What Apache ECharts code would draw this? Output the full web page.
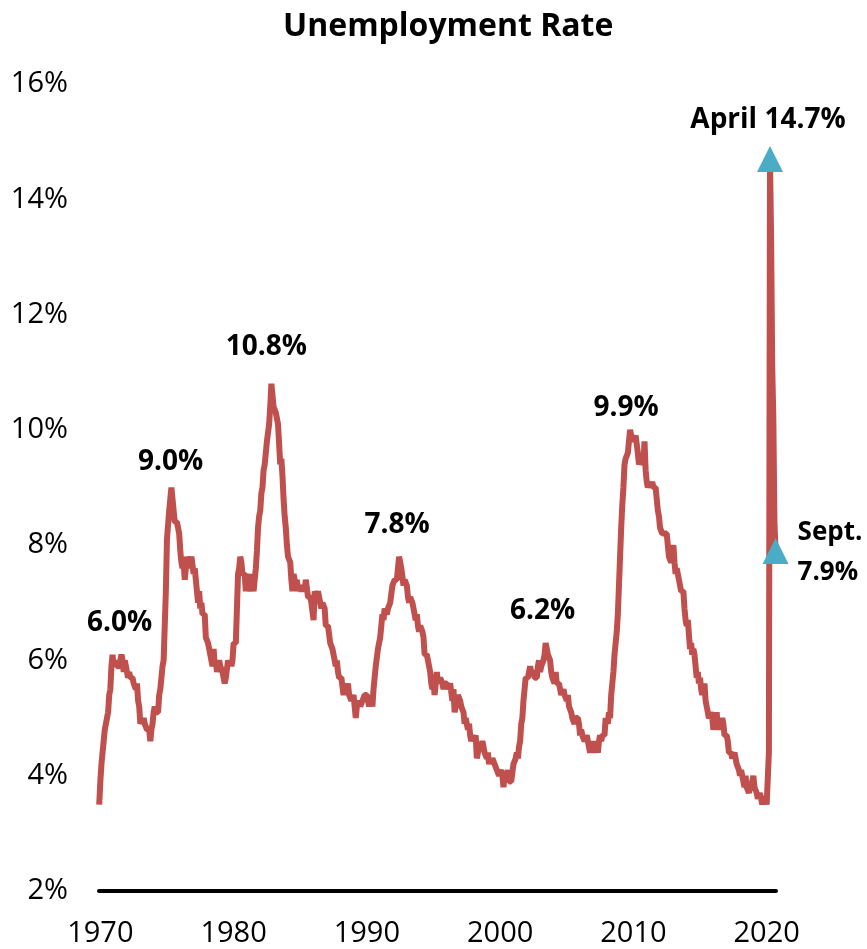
<!DOCTYPE html>
<html>
<head>
    <meta charset="utf-8">
    <title>Unemployment Rate</title>
    <style>
        html, body { margin: 0; padding: 0; background: #fff; }
        #chart { width: 867px; height: 949px; }
    </style>
</head>
<body>
    <div id="chart"></div>
    <script src="https://cdn.jsdelivr.net/npm/echarts@6/dist/echarts.min.js"></script>
    <script>
        // monthly rate, first point is Dec 1969
        var firstMonth = 1969 + 11 / 12;
        var rate1969 = [3.5];
        var rate1970s = [
            3.9, 4.2, 4.4, 4.6, 4.8, 4.9, 5.0, 5.1, 5.4, 5.5, 5.9, 6.1,
            5.9, 5.9, 6.0, 5.9, 5.9, 5.9, 6.0, 6.1, 6.0, 5.8, 6.0, 6.0,
            5.8, 5.7, 5.8, 5.7, 5.7, 5.7, 5.6, 5.6, 5.5, 5.6, 5.3, 5.2,
            4.9, 5.0, 4.9, 5.0, 4.9, 4.9, 4.8, 4.8, 4.8, 4.6, 4.8, 4.9,
            5.1, 5.2, 5.1, 5.1, 5.1, 5.4, 5.5, 5.5, 5.9, 6.0, 6.6, 7.2,
            8.1, 8.1, 8.6, 8.8, 9.0, 8.8, 8.6, 8.4, 8.4, 8.4, 8.3, 8.2,
            7.9, 7.7, 7.6, 7.7, 7.4, 7.6, 7.8, 7.8, 7.6, 7.7, 7.8, 7.8,
            7.5, 7.6, 7.4, 7.2, 7.0, 7.2, 6.9, 7.0, 6.8, 6.8, 6.8, 6.4,
            6.4, 6.3, 6.3, 6.1, 6.0, 5.9, 6.2, 5.9, 6.0, 5.8, 5.9, 6.0,
            5.9, 5.9, 5.8, 5.8, 5.6, 5.7, 5.7, 6.0, 5.9, 6.0, 5.9, 6.0
        ];
        var rate1980s = [
            6.3, 6.3, 6.3, 6.9, 7.5, 7.6, 7.8, 7.7, 7.5, 7.5, 7.5, 7.2,
            7.5, 7.4, 7.4, 7.2, 7.5, 7.5, 7.2, 7.4, 7.6, 7.9, 8.3, 8.5,
            8.6, 8.9, 9.0, 9.3, 9.4, 9.6, 9.8, 9.8, 10.1, 10.4, 10.8, 10.8,
            10.4, 10.4, 10.3, 10.2, 10.1, 10.1, 9.4, 9.5, 9.2, 8.8, 8.5, 8.3,
            8.0, 7.8, 7.8, 7.7, 7.4, 7.2, 7.5, 7.5, 7.3, 7.4, 7.2, 7.3,
            7.3, 7.2, 7.2, 7.3, 7.2, 7.4, 7.4, 7.1, 7.1, 7.1, 7.0, 7.0,
            6.7, 7.2, 7.2, 7.1, 7.2, 7.2, 7.0, 6.9, 7.0, 7.0, 6.9, 6.6,
            6.6, 6.6, 6.6, 6.3, 6.3, 6.2, 6.1, 6.0, 5.9, 6.0, 5.8, 5.7,
            5.7, 5.7, 5.7, 5.4, 5.6, 5.4, 5.4, 5.6, 5.4, 5.4, 5.3, 5.3,
            5.4, 5.2, 5.0, 5.2, 5.2, 5.3, 5.2, 5.2, 5.3, 5.3, 5.4, 5.4
        ];
        var rate1990s = [
            5.4, 5.3, 5.2, 5.4, 5.4, 5.2, 5.5, 5.7, 5.9, 5.9, 6.2, 6.3,
            6.4, 6.6, 6.8, 6.7, 6.9, 6.9, 6.8, 6.9, 6.9, 7.0, 7.0, 7.3,
            7.3, 7.4, 7.4, 7.4, 7.6, 7.8, 7.7, 7.6, 7.6, 7.3, 7.4, 7.4,
            7.3, 7.1, 7.0, 7.1, 7.1, 7.0, 6.9, 6.8, 6.7, 6.8, 6.6, 6.5,
            6.6, 6.6, 6.5, 6.4, 6.1, 6.1, 6.1, 6.0, 5.9, 5.8, 5.6, 5.5,
            5.6, 5.4, 5.4, 5.8, 5.6, 5.6, 5.7, 5.7, 5.6, 5.5, 5.6, 5.6,
            5.6, 5.5, 5.5, 5.6, 5.6, 5.3, 5.5, 5.1, 5.2, 5.2, 5.4, 5.4,
            5.3, 5.2, 5.2, 5.1, 4.9, 5.0, 4.9, 4.8, 4.9, 4.7, 4.6, 4.7,
            4.6, 4.6, 4.7, 4.3, 4.4, 4.5, 4.5, 4.5, 4.6, 4.5, 4.4, 4.4,
            4.3, 4.4, 4.2, 4.3, 4.2, 4.3, 4.3, 4.2, 4.2, 4.1, 4.1, 4.0
        ];
        var rate2000s = [
            4.0, 4.1, 4.0, 3.8, 4.0, 4.0, 4.0, 4.1, 3.9, 3.9, 3.9, 3.9,
            4.2, 4.2, 4.3, 4.4, 4.3, 4.5, 4.6, 4.9, 5.0, 5.3, 5.5, 5.7,
            5.7, 5.7, 5.7, 5.9, 5.8, 5.8, 5.8, 5.7, 5.7, 5.7, 5.9, 6.0,
            5.8, 5.9, 5.9, 6.0, 6.1, 6.3, 6.2, 6.1, 6.1, 6.0, 5.8, 5.7,
            5.7, 5.6, 5.8, 5.6, 5.6, 5.6, 5.5, 5.4, 5.4, 5.5, 5.4, 5.4,
            5.3, 5.4, 5.2, 5.2, 5.1, 5.0, 5.0, 4.9, 5.0, 5.0, 5.0, 4.9,
            4.7, 4.8, 4.7, 4.7, 4.6, 4.6, 4.7, 4.7, 4.5, 4.4, 4.5, 4.4,
            4.6, 4.5, 4.4, 4.5, 4.4, 4.6, 4.7, 4.6, 4.7, 4.7, 4.7, 5.0,
            5.0, 4.9, 5.1, 5.0, 5.4, 5.6, 5.8, 6.1, 6.1, 6.5, 6.8, 7.3,
            7.8, 8.3, 8.7, 9.0, 9.4, 9.5, 9.5, 9.6, 9.8, 10.0, 9.9, 9.9
        ];
        var rate2010s = [
            9.8, 9.8, 9.9, 9.9, 9.6, 9.4, 9.4, 9.5, 9.5, 9.4, 9.8, 9.3,
            9.1, 9.0, 9.0, 9.1, 9.0, 9.1, 9.0, 9.0, 9.0, 8.8, 8.6, 8.5,
            8.3, 8.3, 8.2, 8.2, 8.2, 8.2, 8.2, 8.0, 7.8, 7.8, 7.7, 7.9,
            8.0, 7.7, 7.5, 7.6, 7.5, 7.5, 7.3, 7.2, 7.2, 7.2, 6.9, 6.7,
            6.6, 6.7, 6.7, 6.2, 6.3, 6.1, 6.2, 6.1, 5.9, 5.7, 5.8, 5.6,
            5.7, 5.5, 5.4, 5.4, 5.6, 5.3, 5.2, 5.1, 5.0, 5.0, 5.1, 5.0,
            4.8, 4.9, 5.0, 5.1, 4.8, 4.9, 4.8, 4.9, 5.0, 4.9, 4.7, 4.7,
            4.7, 4.6, 4.4, 4.4, 4.4, 4.3, 4.3, 4.4, 4.3, 4.2, 4.2, 4.1,
            4.0, 4.1, 4.0, 4.0, 3.8, 4.0, 3.8, 3.8, 3.7, 3.8, 3.8, 3.9,
            4.0, 3.8, 3.8, 3.7, 3.6, 3.6, 3.7, 3.6, 3.5, 3.6, 3.6, 3.6
        ];
        var rate2020 = [3.5, 3.5, 4.4, 14.7, 13.3, 11.1, 10.2, 8.4, 7.9];

        var yearTicks = [1970, 1980, 1990, 2000, 2010, 2020];

        // peak notes: month index counted from Dec 1969
        var peakText = ['6.0%', '9.0%', '10.8%', '7.8%', '6.2%', '9.9%'];
        var peakIndex = [12, 66, 155, 271, 402, 478];
        var aprilIndex = 604, septIndex = 609;

        var rates = [].concat(rate1969, rate1970s, rate1980s, rate1990s, rate2000s, rate2010s, rate2020);
        var seriesData = rates.map(function (v, i) {
            return [firstMonth + i / 12, v];
        });

        var font = '"Open Sans", "Noto Sans", sans-serif';
        var labelOffsets = [[7, -32], [-2, -37], [-5, -37], [-3, -37], [-3, -32], [-4, -22]];

        var marks = peakIndex.map(function (idx, k) {
            return {
                coord: seriesData[idx],
                symbol: 'circle',
                symbolSize: 1,
                itemStyle: { color: 'rgba(0,0,0,0)' },
                label: {
                    show: true,
                    position: 'inside',
                    offset: labelOffsets[k],
                    formatter: peakText[k]
                }
            };
        });
        marks.push({
            coord: seriesData[aprilIndex],
            label: {
                show: true,
                position: 'inside',
                offset: [-2, -39],
                formatter: 'April ' + rates[aprilIndex].toFixed(1) + '%'
            }
        });
        marks.push({
            coord: seriesData[septIndex],
            label: {
                show: true,
                position: 'inside',
                align: 'left',
                offset: [22, 2],
                fontSize: 26,
                lineHeight: 40,
                formatter: 'Sept.\n' + rates[septIndex].toFixed(1) + '%'
            }
        });

        var chart = echarts.init(document.getElementById('chart'));
        chart.setOption({
            animation: false,
            backgroundColor: '#fff',
            title: {
                text: 'Unemployment Rate',
                left: 278,
                top: 6,
                textStyle: { fontFamily: font, fontSize: 32, fontWeight: 'bold', color: '#000' }
            },
            grid: { left: 99, right: 91, top: 84, bottom: 58 },
            xAxis: {
                type: 'value',
                min: 1969.9,
                max: 2020.7,
                axisLine: { show: true, lineStyle: { color: '#000', width: 4 } },
                axisTick: { show: false },
                splitLine: { show: false },
                axisLabel: {
                    customValues: yearTicks,
                    formatter: function (v) { return String(Math.round(v)); },
                    margin: 28,
                    fontFamily: font,
                    fontSize: 29,
                    color: '#000'
                }
            },
            yAxis: {
                type: 'value',
                min: 2,
                max: 16,
                interval: 2,
                axisLine: { show: false },
                axisTick: { show: false },
                splitLine: { show: false },
                axisLabel: {
                    formatter: '{value}%',
                    margin: 31,
                    fontFamily: font,
                    fontSize: 29,
                    color: '#000'
                }
            },
            series: [{
                type: 'line',
                data: seriesData,
                showSymbol: false,
                lineStyle: { color: '#C0504D', width: 6 },
                markPoint: {
                    symbol: 'triangle',
                    symbolSize: 26,
                    itemStyle: { color: '#4BACC6' },
                    label: { fontFamily: font, fontSize: 28, fontWeight: 'bold', color: '#000' },
                    data: marks
                }
            }]
        });
    </script>
</body>
</html>
